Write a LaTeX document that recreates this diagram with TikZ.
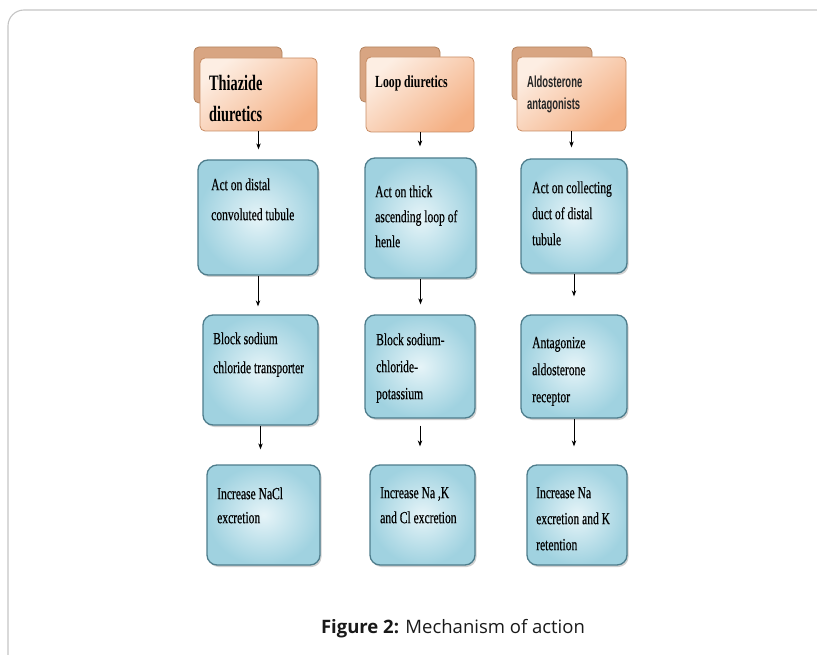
\documentclass[tikz,border=0pt]{standalone}
\usepackage{fontspec}
\usetikzlibrary{arrows.meta,shadows}
\setmainfont{Liberation Serif}
\newfontfamily\boxserif[FakeStretch=0.68,FakeBold=0.4]{Liberation Serif}
\newfontfamily\thiazideface[FakeStretch=0.65]{Liberation Serif}
\newfontfamily\loopface[FakeStretch=0.69]{Liberation Serif}
\newfontfamily\aldoface[FakeStretch=0.59]{Liberation Sans}
\newfontfamily\capface{Open Sans}

\definecolor{framegray}{HTML}{C4C4C4}
\definecolor{tabfill}{HTML}{D8A582}
\definecolor{tabdraw}{HTML}{B3835F}
\definecolor{headdraw}{HTML}{C78B62}
\definecolor{headlight}{HTML}{FDEEE3}
\definecolor{headdark}{HTML}{F4B084}
\definecolor{bluedraw}{HTML}{4E7D8C}
\definecolor{bluelight}{HTML}{E6F4F8}
\definecolor{bluedark}{HTML}{A0D2E0}

\tikzset{
  tabbox/.style={draw=tabdraw, fill=tabfill, line width=0.8pt, rounded corners=5pt, inner sep=0pt},
  headbox/.style={draw=headdraw, line width=0.8pt, rounded corners=5pt, inner sep=0pt,
    top color=headlight, bottom color=headdark, shading angle=40},
  bluebox/.style={draw=bluedraw, line width=1.3pt, rounded corners=10pt, inner sep=0pt,
    inner color=bluelight, outer color=bluedark,
    drop shadow={shadow xshift=1.5pt, shadow yshift=-2pt, opacity=0.3, fill=black!60}},
  boxtext/.style={inner sep=0pt, align=left, anchor=north west, text=black},
  flowarrow/.style={draw=black, line width=0.8pt, -{Stealth[length=6pt,width=4.5pt]}},
}

% box: name, x1, y1, x2, y2, text x, first baseline, line skip, text
\newcommand\flowbox[9]{%
  \node[bluebox, minimum width={(#4-#2)*1pt}, minimum height={(#5-#3)*1pt}]
    (#1) at ({(#2+#4)/2},{(#3+#5)/2}) {};
  \node[boxtext, font=\boxserif\fontsize{17}{#8}\selectfont]
    (#1-text) at (#6,{#7-14}) {\rule{0pt}{14pt}#9};
}
% header with a tab behind it: name, tab x1,y1,x2,y2, head x1,y1,x2,y2
\newcommand\headbox[9]{%
  \node[tabbox, minimum width={(#4-#2)*1pt}, minimum height={(#5-#3)*1pt}]
    (#1-tab) at ({(#2+#4)/2},{(#3+#5)/2}) {};
  \node[headbox, minimum width={(#8-#6)*1pt}, minimum height={(#9-#7)*1pt}]
    (#1) at ({(#6+#8)/2},{(#7+#9)/2}) {};
}

\begin{document}
\begin{tikzpicture}[x=1pt, y=-1pt]
\useasboundingbox (0,0) rectangle (817,655);
\clip (0,0) rectangle (817,655);

% card outline
\draw[framegray, line width=1.1pt, rounded corners=16pt] (8,10) rectangle (860,700);

% headers
\headbox{thiazide}{194}{47}{282}{103}{200}{58}{317}{131}
\headbox{loop}{360}{47}{440}{102}{366}{57}{474}{132}
\headbox{aldo}{512}{47}{592}{100}{517}{57}{626}{131}

\node[boxtext, font=\thiazideface\bfseries\fontsize{22}{31}\selectfont]
  (thiazide-text) at (209,{90-16}) {\rule{0pt}{16pt}Thiazide\\diuretics};
\node[boxtext, font=\loopface\bfseries\fontsize{17}{25}\selectfont]
  (loop-text) at (375,{87-14}) {\rule{0pt}{14pt}Loop diuretics};
\node[boxtext, font=\aldoface\bfseries\fontsize{16}{22}\selectfont, text=black!85]
  (aldo-text) at (527,{87-14}) {\rule{0pt}{14pt}Aldosterone\\antagonists};

% thiazide column
\flowbox{t1}{198}{160}{318}{275}{211}{190}{30}{Act on distal\\convoluted tubule}
\flowbox{t2}{203}{315}{318}{425}{213}{344}{29}{Block sodium\\chloride transporter}
\flowbox{t3}{207}{465}{320}{565}{217}{499}{24}{Increase NaCl\\excretion}

% loop column
\flowbox{l1}{365}{158}{476}{278}{375}{197}{25}{Act on thick\\ascending loop of\\henle}
\flowbox{l2}{365}{315}{475}{418}{376}{345}{27}{Block sodium-\\chloride-\\potassium}
\flowbox{l3}{370}{465}{475}{565}{380}{498}{25}{Increase Na ,K\\and Cl excretion}

% aldosterone column
\flowbox{a1}{521}{159}{627}{273}{532}{193}{26}{Act on collecting\\duct of distal\\tubule}
\flowbox{a2}{521}{315}{627}{418}{532}{348}{27}{Antagonize\\aldosterone\\receptor}
\flowbox{a3}{527}{465}{627}{565}{536}{498}{26}{Increase Na\\excretion and K\\retention}

% connectors
\draw[flowarrow, shorten >=10pt] (thiazide.south) -- (thiazide.south |- t1.north);
\draw[flowarrow, shorten >=8pt]  (t1.south) -- (t1.south |- t2.north);
\draw[flowarrow, shorten >=15pt] (t2.south) -- (t2.south |- t3.north);

\draw[flowarrow, shorten >=11pt] (loop.south) -- (loop.south |- l1.north);
\draw[flowarrow, shorten >=10pt] (l1.south) -- (l1.south |- l2.north);
\draw[flowarrow, shorten <=7pt, shorten >=18pt] (l2.south) -- (l2.south |- l3.north);

\draw[flowarrow, shorten >=11pt] (aldo.south) -- (aldo.south |- a1.north);
\draw[flowarrow, shorten >=18pt] (a1.south) -- (a1.south |- a2.north);
\draw[flowarrow, shorten >=18pt] (a2.south) -- (a2.south |- a3.north);

% caption
\node[anchor=base, inner sep=0pt, font=\capface\fontsize{18.5}{23}\selectfont, text=black!90]
  (caption) at (453,633) {\textbf{Figure 2:} Mechanism of action};
\end{tikzpicture}
\end{document}
